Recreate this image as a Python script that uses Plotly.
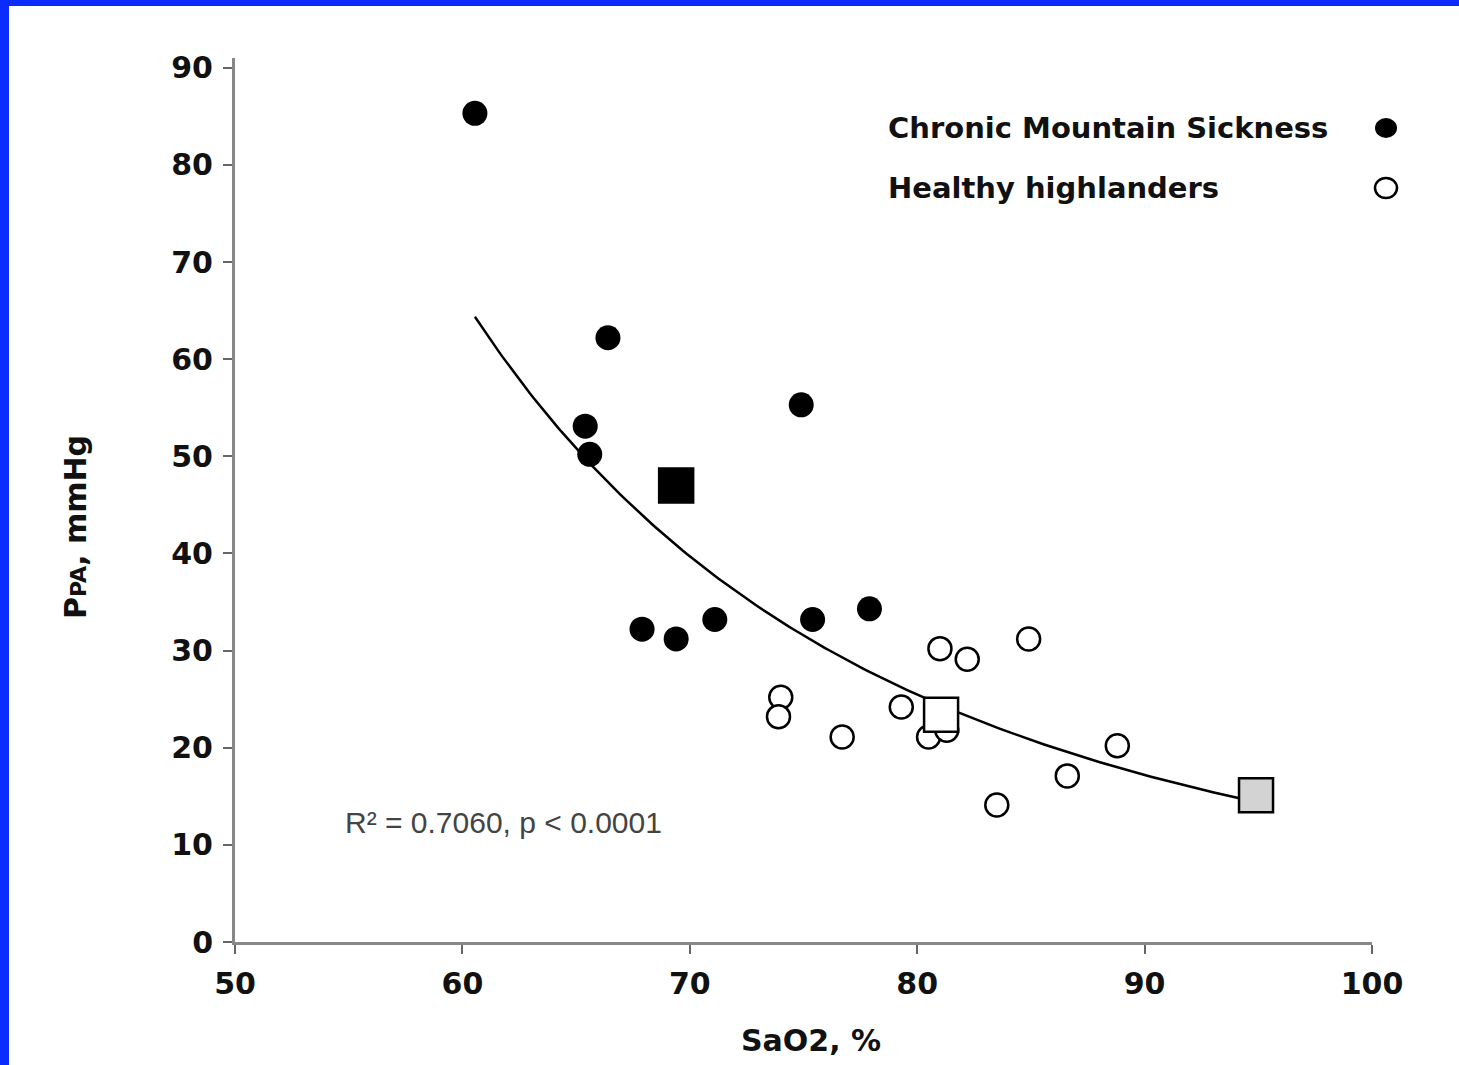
import numpy as np
import plotly.graph_objects as go

# Individual subjects
cms_sao2 = [60.55, 66.4, 65.4, 65.6, 74.9, 67.9, 69.4, 71.1, 75.4, 77.9]
cms_ppa = [85.3, 62.2, 53.1, 50.2, 55.3, 32.2, 31.2, 33.2, 33.2, 34.3]

hh_sao2 = [81.0, 82.2, 84.9, 74.0, 73.9, 79.3, 76.7, 80.5, 81.3, 88.8, 86.6, 83.5]
hh_ppa = [30.2, 29.1, 31.2, 25.2, 23.2, 24.2, 21.1, 21.1, 21.8, 20.2, 17.1, 14.1]

# Group means: CMS, healthy highlanders, sea-level reference
mean_sao2 = [69.4, 81.05, 94.9]
mean_ppa = [47.0, 23.4, 15.1]
mean_fill = ["black", "white", "#d3d3d3"]

# Power-law regression PPA = A * SaO2^B
FIT_A = np.exp(17.829)
FIT_B = -3.33
fit_x = np.linspace(min(cms_sao2), mean_sao2[-1], 200)
fit_y = FIT_A * fit_x ** FIT_B

x_ticks = [50, 60, 70, 80, 90, 100]
y_ticks = [0, 10, 20, 30, 40, 50, 60, 70, 80, 90]

W, H = 1459, 1065
L, R, T, B = 235, 87, 58, 123
PW, PH = W - L - R, H - T - B


def px(xp):
    return (xp - L) / PW


def py(yp):
    return (H - B - yp) / PH


BOLD_FONT = "DejaVu Sans, Verdana, sans-serif"
PLAIN_FONT = "Liberation Sans, Arial, sans-serif"
BLUE = "#0c2cff"
INK = "#111"

fig = go.Figure()

fig.add_trace(go.Scatter(x=fit_x, y=fit_y, mode="lines",
                         line=dict(color="black", width=2.5),
                         hoverinfo="skip", showlegend=False))
fig.add_trace(go.Scatter(x=cms_sao2, y=cms_ppa, mode="markers",
                         name="Chronic Mountain Sickness",
                         marker=dict(symbol="circle", size=25, color="black",
                                     line=dict(width=0)),
                         showlegend=False))
fig.add_trace(go.Scatter(x=hh_sao2, y=hh_ppa, mode="markers",
                         name="Healthy highlanders",
                         marker=dict(symbol="circle", size=23, color="white",
                                     line=dict(width=2.5, color="black")),
                         showlegend=False))
fig.add_trace(go.Scatter(x=mean_sao2, y=mean_ppa, mode="markers",
                         marker=dict(symbol="square", size=34, color=mean_fill,
                                     line=dict(width=2.5, color="black")),
                         showlegend=False))

shapes = [
    # blue frame strips
    dict(type="rect", xref="paper", yref="paper",
         x0=px(0), x1=px(9), y0=py(H), y1=py(0),
         fillcolor=BLUE, line=dict(width=0), layer="above"),
    dict(type="rect", xref="paper", yref="paper",
         x0=px(0), x1=px(W), y0=py(6), y1=py(0),
         fillcolor=BLUE, line=dict(width=0), layer="above"),
    # legend keys
    dict(type="circle", xref="paper", yref="paper",
         xsizemode="pixel", ysizemode="pixel",
         xanchor=px(1386), yanchor=py(128),
         x0=-11, x1=11, y0=-10, y1=10,
         fillcolor="black", line=dict(width=0)),
    dict(type="circle", xref="paper", yref="paper",
         xsizemode="pixel", ysizemode="pixel",
         xanchor=px(1386), yanchor=py(188),
         x0=-11, x1=11, y0=-10, y1=10,
         fillcolor="white", line=dict(width=2.5, color="black")),
]

annotations = [
    dict(text="<b>Chronic Mountain Sickness</b>", x=px(886), y=py(128),
         xref="paper", yref="paper", xanchor="left", yanchor="middle",
         showarrow=False, font=dict(family=BOLD_FONT, size=29, color=INK)),
    dict(text="<b>Healthy highlanders</b>", x=px(886), y=py(188),
         xref="paper", yref="paper", xanchor="left", yanchor="middle",
         showarrow=False, font=dict(family=BOLD_FONT, size=29, color=INK)),
    dict(text="R² = 0.7060, p < 0.0001", x=px(343), y=py(822),
         xref="paper", yref="paper", xanchor="left", yanchor="middle",
         showarrow=False, font=dict(family=PLAIN_FONT, size=30, color="#444")),
    dict(text="<b>SaO2, %</b>", x=px(811), y=py(1040),
         xref="paper", yref="paper", xanchor="center", yanchor="middle",
         showarrow=False, font=dict(family=BOLD_FONT, size=30, color=INK)),
    dict(text="<b>P<span style='font-size:22px'>PA</span>, mmHg</b>",
         x=px(75), y=py(527), textangle=-90,
         xref="paper", yref="paper", xanchor="center", yanchor="middle",
         showarrow=False, font=dict(family=BOLD_FONT, size=30, color=INK)),
]

fig.update_layout(
    width=W, height=H,
    margin=dict(l=L, r=R, t=T, b=B, pad=0),
    paper_bgcolor="white", plot_bgcolor="white",
    font=dict(family=BOLD_FONT, color=INK),
    shapes=shapes, annotations=annotations,
    showlegend=False,
)
fig.update_xaxes(
    range=[50, 100], tickvals=x_ticks,
    ticktext=[f"<b>{v}</b>" for v in x_ticks],
    tickfont=dict(family=BOLD_FONT, size=30, color=INK),
    showgrid=False, zeroline=False,
    showline=True, linecolor="#888", linewidth=3,
    ticks="outside", ticklen=9, tickwidth=2, tickcolor="#666",
    ticklabelstandoff=4,
)
fig.update_yaxes(
    range=[0, 91], tickvals=y_ticks,
    ticktext=[f"<b>{v}</b>" for v in y_ticks],
    tickfont=dict(family=BOLD_FONT, size=30, color=INK),
    showgrid=False, zeroline=False,
    showline=True, linecolor="#888", linewidth=3,
    ticks="outside", ticklen=9, tickwidth=2, tickcolor="#666",
    ticklabelstandoff=4,
)

fig.write_html("out.html")
